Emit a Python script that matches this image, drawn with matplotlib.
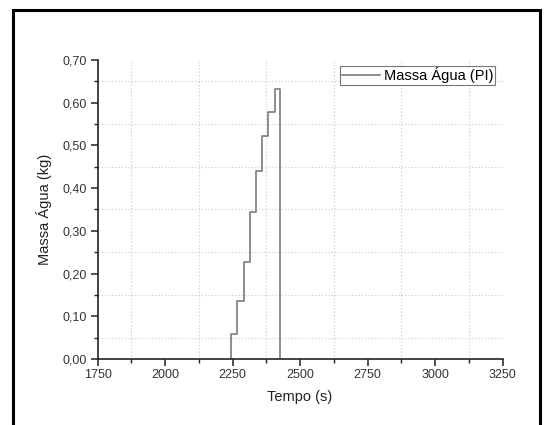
import matplotlib
matplotlib.use("Agg")
import matplotlib.pyplot as plt
from matplotlib.ticker import MultipleLocator, FuncFormatter
from matplotlib.patches import Rectangle

plt.rcParams['font.family'] = ['Liberation Sans', 'DejaVu Sans']

# Water mass (kg) over time (s), stepwise
tempo = [2245, 2245, 2268, 2291, 2314, 2337, 2360, 2383, 2406, 2425]
massa = [0.0, 0.059, 0.135, 0.227, 0.345, 0.440, 0.522, 0.578, 0.631, 0.0]

x_ticks = [1750, 2000, 2250, 2500, 2750, 3000, 3250]
y_ticks = [0.0, 0.1, 0.2, 0.3, 0.4, 0.5, 0.6, 0.7]
serie_label = "Massa Água (PI)"

W, H = 544, 425
fig = plt.figure(figsize=(W / 100, H / 100), dpi=100)
ax = fig.add_axes([97.5 / W, 1 - 359 / H, 405 / W, 299 / H])

ax.step(tempo, massa, where='post', color='#7a7a7a', lw=1.2, label=serie_label)

ax.set_xlim(1750, 3250)
ax.set_ylim(0, 0.70)
ax.set_xticks(x_ticks)
ax.set_yticks(y_ticks)
ax.xaxis.set_minor_locator(MultipleLocator(125))
ax.yaxis.set_minor_locator(MultipleLocator(0.05))
ax.yaxis.set_major_formatter(FuncFormatter(lambda v, p: f"{v:.2f}".replace('.', ',')))
ax.xaxis.set_major_formatter(FuncFormatter(lambda v, p: f"{v:.0f}"))

for s in ('top', 'right'):
    ax.spines[s].set_visible(False)
for s in ('left', 'bottom'):
    ax.spines[s].set_linewidth(1.2)
    ax.spines[s].set_color('#222222')

ax.tick_params(which='major', direction='out', length=5, width=1.1,
               labelsize=9, color='#222222', labelcolor='#333333', pad=2.5)
ax.tick_params(which='minor', direction='out', length=3, width=1.0, color='#222222')

ax.grid(which='minor', linestyle=(0, (1, 2)), color='#c8c8c8', linewidth=0.8)
ax.grid(which='major', visible=False)
ax.set_axisbelow(True)

ax.set_xlabel("Tempo (s)", fontsize=10.5, color='#222222', labelpad=6)
ax.set_ylabel("Massa Água (kg)", fontsize=10.5, color='#222222', labelpad=8)

leg = ax.legend(loc='upper right', bbox_to_anchor=(495 / W, 1 - 66 / H),
                bbox_transform=fig.transFigure, fontsize=10.5, frameon=True,
                fancybox=False, edgecolor='#555555', borderpad=0.1,
                handlelength=2.6, handletextpad=0.3, borderaxespad=0)
leg.get_frame().set_linewidth(0.8)

# outer frame around the figure
fig.patches.append(Rectangle((13 / W, -0.05), (540 - 13) / W, 1.05 - 10 / H,
                             transform=fig.transFigure, fill=False,
                             edgecolor='black', linewidth=2.2, clip_on=False))

fig.savefig("out.png", dpi=100)
